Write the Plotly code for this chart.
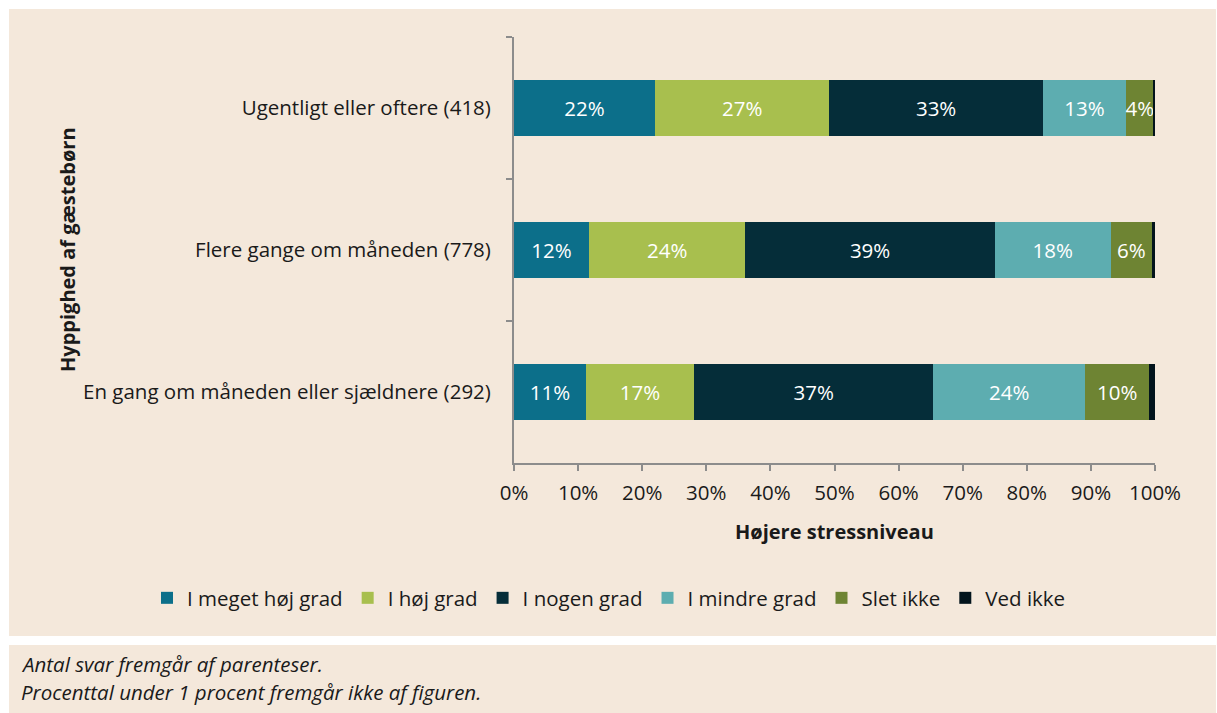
import plotly.graph_objects as go

categories = [
    "Ugentligt eller oftere (418)",
    "Flere gange om måneden (778)",
    "En gang om måneden eller sjældnere (292)",
]
series_names = ["I meget høj grad", "I høj grad", "I nogen grad", "I mindre grad", "Slet ikke", "Ved ikke"]
meget_hoj = [22.0, 11.7, 11.2]
hoj = [27.2, 24.4, 16.9]
nogen = [33.3, 38.9, 37.3]
mindre = [13.0, 18.1, 23.7]
slet_ikke = [4.3, 6.4, 10.0]
ved_ikke = [0.2, 0.5, 0.9]
x_ticks = [0, 10, 20, 30, 40, 50, 60, 70, 80, 90, 100]
x_ticktext = ["0%", "10%", "20%", "30%", "40%", "50%", "60%", "70%", "80%", "90%", "100%"]

colors = ["#0c6f8a", "#a8bf4e", "#052d39", "#5dadb0", "#6e8433", "#02141c"]
series = [meget_hoj, hoj, nogen, mindre, slet_ikke, ved_ikke]

FONT = "Open Sans"
BEIGE = "#f4e8db"
FS = 20.5

# plot area in pixels
L, R, T, B = 514, 1155, 37, 463


def px_x(p):
    return (p - L) / (R - L)


def px_y(p):
    return (B - p) / (B - T)


fig = go.Figure()
for name, vals, col in zip(series_names, series, colors):
    fig.add_trace(go.Bar(
        y=categories, x=vals, name=name, orientation="h",
        marker=dict(color=col, line=dict(width=0)),
        text=[f"{round(v)}%" if v >= 1 else "" for v in vals],
        textposition="inside", insidetextanchor="middle", textangle=0,
        textfont=dict(color="white", size=FS, family=FONT),
        constraintext="none", hoverinfo="x+y+name",
    ))

fig.update_layout(
    barmode="stack", bargap=0.6,
    width=1217, height=713,
    margin=dict(l=L, r=1217 - R, t=T, b=713 - B),
    paper_bgcolor="white", plot_bgcolor=BEIGE,
    font=dict(family=FONT, size=FS, color="#1a1a1a"),
    legend=dict(orientation="h", x=px_x(147), y=px_y(598), xanchor="left", yanchor="middle",
                font=dict(size=FS), bgcolor="rgba(0,0,0,0)", traceorder="normal"),
    xaxis=dict(range=[0, 100], tickvals=x_ticks, ticktext=x_ticktext, showgrid=False, zeroline=False,
               showline=True, linecolor="#8c8c8c", linewidth=2, ticks="outside", ticklen=6,
               tickcolor="#8c8c8c", tickwidth=2, tickfont=dict(size=FS), ticklabelstandoff=4),
    yaxis=dict(autorange="reversed", showgrid=False, showline=True, linecolor="#8c8c8c", linewidth=2,
               ticks="outside", ticklen=6, tickcolor="#8c8c8c", tickwidth=2, tickson="boundaries",
               tickfont=dict(size=FS), ticklabelstandoff=17),
    showlegend=True,
)

# background boxes
fig.add_shape(type="rect", xref="paper", yref="paper", x0=px_x(9), x1=px_x(1216), y0=px_y(636), y1=px_y(9),
              fillcolor=BEIGE, line=dict(width=0), layer="below")
fig.add_shape(type="rect", xref="paper", yref="paper", x0=px_x(9), x1=px_x(1216), y0=px_y(720), y1=px_y(645),
              fillcolor=BEIGE, line=dict(width=0), layer="below")

fig.add_annotation(text="<b>Højere stressniveau</b>", xref="paper", yref="paper", x=px_x(834), y=px_y(531),
                   showarrow=False, font=dict(size=20), xanchor="center", yanchor="middle")
fig.add_annotation(text="<b>Hyppighed af gæstebørn</b>", xref="paper", yref="paper", x=px_x(67), y=px_y(250),
                   showarrow=False, textangle=-90, font=dict(size=20), xanchor="center", yanchor="middle")
fig.add_annotation(text="<i>Antal svar fremgår af parenteser.</i>", xref="paper", yref="paper", x=px_x(19),
                   y=px_y(664), showarrow=False, font=dict(size=20.5), xanchor="left", yanchor="middle")
fig.add_annotation(text="<i>Procenttal under 1 procent fremgår ikke af figuren.</i>", xref="paper", yref="paper",
                   x=px_x(19), y=px_y(692), showarrow=False, font=dict(size=20.5), xanchor="left", yanchor="middle")

fig.write_html("out.html", config={"displayModeBar": False},
               post_script="document.body.style.margin='0';")
